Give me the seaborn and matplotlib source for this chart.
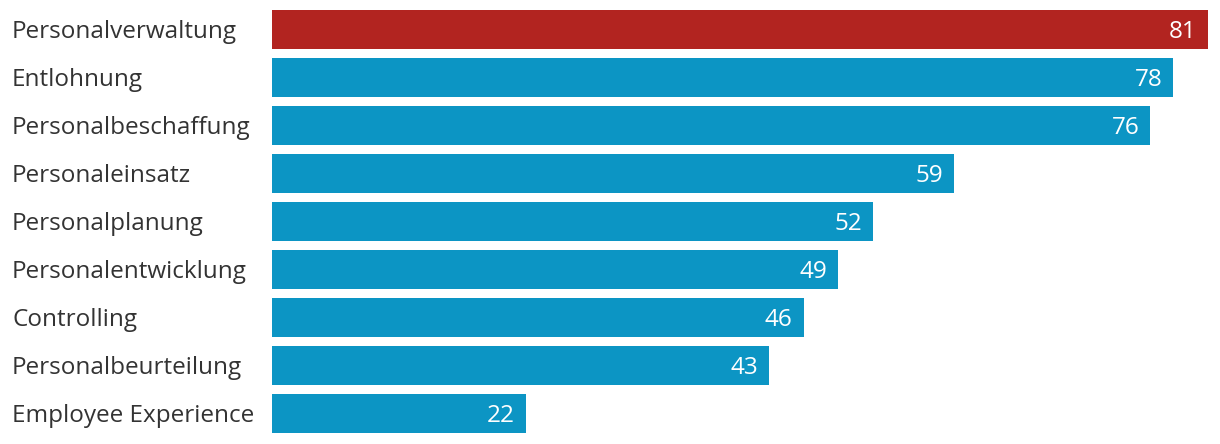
import pandas as pd
import seaborn as sns
import matplotlib.pyplot as plt
from matplotlib.transforms import blended_transform_factory

kategorien = ["Personalverwaltung", "Entlohnung", "Personalbeschaffung",
              "Personaleinsatz", "Personalplanung", "Personalentwicklung",
              "Controlling", "Personalbeurteilung", "Employee Experience"]
werte = [81, 78, 76, 59, 52, 49, 46, 43, 22]
hervorheben = [True, False, False, False, False, False, False, False, False]

df = pd.DataFrame({"kategorie": kategorien, "wert": werte,
                   "gruppe": ["rot" if h else "blau" for h in hervorheben]})

sns.set_theme(style="white")
plt.rcParams['font.family'] = ['Open Sans', 'DejaVu Sans']

fig = plt.figure(figsize=(12.2, 4.44), dpi=100)
ax = fig.add_axes([272 / 1220, 1 - 437.5 / 444, (1208 - 272) / 1220, 432 / 444])

sns.barplot(data=df, x="wert", y="kategorie", hue="gruppe", orient="h",
            palette={"rot": "#B22420", "blau": "#0C95C4"}, width=0.82,
            dodge=False, legend=False, saturation=1, linewidth=0,
            edgecolor="none", ax=ax)

ax.set_xlim(0, max(werte))
ax.set_ylim(len(kategorien) - 0.5, -0.5)
ax.set_xlabel("")
ax.set_ylabel("")
ax.set_xticks([])
ax.set_yticks([])
sns.despine(ax=ax, left=True, bottom=True)

trans = blended_transform_factory(fig.transFigure, ax.transData)
for i, (k, w) in enumerate(zip(kategorien, werte)):
    ax.text(12 / 1220, i, k, transform=trans, ha="left", va="center_baseline",
            fontsize=17.5, color="#333333")
    ax.annotate(str(w), xy=(w, i), xytext=(-11, 0), textcoords="offset pixels",
                ha="right", va="center_baseline", fontsize=17.5, color="white")

fig.savefig("out.png", dpi=100)
